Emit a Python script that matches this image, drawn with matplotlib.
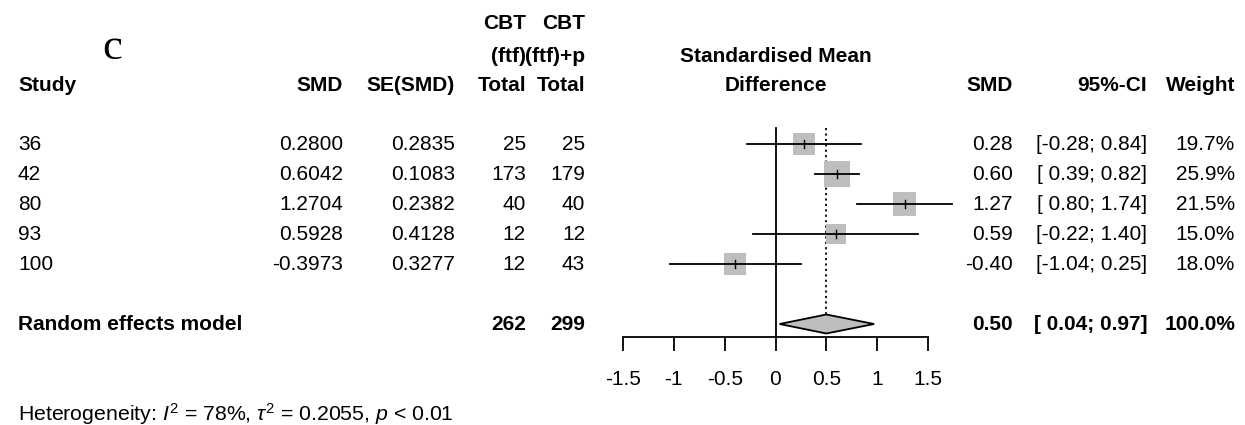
import matplotlib.pyplot as plt
import matplotlib.patches as patches

plt.rcParams['font.family'] = ['Liberation Sans', 'DejaVu Sans']
plt.rcParams['mathtext.fontset'] = 'custom'
plt.rcParams['mathtext.rm'] = 'Liberation Sans'
plt.rcParams['mathtext.it'] = 'Liberation Sans:italic'

# Study data
studies = ['36', '42', '80', '93', '100']
smd = [0.2800, 0.6042, 1.2704, 0.5928, -0.3973]
se_smd = [0.2835, 0.1083, 0.2382, 0.4128, 0.3277]
n_ftf = [25, 173, 40, 12, 12]
n_ftfp = [25, 179, 40, 12, 43]
ci_low = [-0.28, 0.39, 0.80, -0.22, -1.04]
ci_high = [0.84, 0.82, 1.74, 1.40, 0.25]
weights = [19.7, 25.9, 21.5, 15.0, 18.0]

# Random effects summary
re_smd = 0.50
re_low = 0.04
re_high = 0.97
re_n_ftf = 262
re_n_ftfp = 299

x_ticks = [-1.5, -1, -0.5, 0, 0.5, 1, 1.5]
x_tick_labels = ['-1.5', '-1', '-0.5', '0', '0.5', '1', '1.5']

# layout (pixel rows, top = 0)
W, H = 1245, 425
row_y = [144 + 30 * i for i in range(len(studies))]
re_y = 324
axis_y = 337
fs = 15
lw = 1.3
box_grey = '#BEBEBE'

fig = plt.figure(figsize=(W / 100, H / 100), dpi=100)
ax = fig.add_axes([0, 0, 1, 1])
ax.set_xlim(0, W)
ax.set_ylim(H, 0)
ax.axis('off')

# forest panel, x in SMD units
fax = fig.add_axes([623 / W, 0, 305 / W, 1])
fax.set_xlim(-1.5, 1.5)
fax.set_ylim(H, 0)
fax.patch.set_alpha(0)
for s in ['left', 'right', 'top']:
    fax.spines[s].set_visible(False)
fax.spines['bottom'].set_position(('data', axis_y))
fax.spines['bottom'].set_bounds(-1.5, 1.5)
fax.spines['bottom'].set_linewidth(lw)
fax.set_yticks([])
fax.set_xticks(x_ticks)
fax.set_xticklabels(x_tick_labels)
fax.tick_params(axis='x', direction='out', length=10, width=lw, labelsize=fs, pad=14)

# panel letter
ax.text(112, 48, 'c', fontsize=32, family='Liberation Serif', ha='center', va='center')

# column headers
ax.text(526, 23, 'CBT', fontsize=fs, fontweight='bold', ha='right', va='center')
ax.text(585, 23, 'CBT', fontsize=fs, fontweight='bold', ha='right', va='center')
ax.text(526, 56, '(ftf)', fontsize=fs, fontweight='bold', ha='right', va='center')
ax.text(585, 56, '(ftf)+p', fontsize=fs, fontweight='bold', ha='right', va='center')
ax.text(776, 56, 'Standardised Mean', fontsize=fs, fontweight='bold', ha='center', va='center')
hy = 85
ax.text(18, hy, 'Study', fontsize=fs, fontweight='bold', ha='left', va='center')
ax.text(343, hy, 'SMD', fontsize=fs, fontweight='bold', ha='right', va='center')
ax.text(455, hy, 'SE(SMD)', fontsize=fs, fontweight='bold', ha='right', va='center')
ax.text(526, hy, 'Total', fontsize=fs, fontweight='bold', ha='right', va='center')
ax.text(585, hy, 'Total', fontsize=fs, fontweight='bold', ha='right', va='center')
ax.text(776, hy, 'Difference', fontsize=fs, fontweight='bold', ha='center', va='center')
ax.text(1013, hy, 'SMD', fontsize=fs, fontweight='bold', ha='right', va='center')
ax.text(1147, hy, '95%-CI', fontsize=fs, fontweight='bold', ha='right', va='center')
ax.text(1235, hy, 'Weight', fontsize=fs, fontweight='bold', ha='right', va='center')


def fmt_ci(lo, hi):
    lo_s = f'{lo:.2f}' if lo < 0 else f' {lo:.2f}'
    return f'[{lo_s}; {hi:.2f}]'


# study rows
for i, y in enumerate(row_y):
    ax.text(18, y, studies[i], fontsize=fs, ha='left', va='center')
    ax.text(343, y, f'{smd[i]:.4f}', fontsize=fs, ha='right', va='center')
    ax.text(455, y, f'{se_smd[i]:.4f}', fontsize=fs, ha='right', va='center')
    ax.text(526, y, str(n_ftf[i]), fontsize=fs, ha='right', va='center')
    ax.text(585, y, str(n_ftfp[i]), fontsize=fs, ha='right', va='center')
    ax.text(1013, y, f'{smd[i]:.2f}', fontsize=fs, ha='right', va='center')
    ax.text(1147, y, fmt_ci(ci_low[i], ci_high[i]), fontsize=fs, ha='right', va='center')
    ax.text(1235, y, f'{weights[i]:.1f}%', fontsize=fs, ha='right', va='center')

    # weight square, side proportional to sqrt(weight)
    side_px = 5.1 * weights[i] ** 0.5
    side_x = side_px / (305 / 3.0)
    fax.add_patch(patches.Rectangle((smd[i] - side_x / 2, y - side_px / 2), side_x, side_px,
                                    facecolor=box_grey, edgecolor='none', zorder=2))
    fax.plot([ci_low[i], ci_high[i]], [y, y], color='black', lw=lw, zorder=3, clip_on=False)
    fax.plot([smd[i], smd[i]], [y - 4, y + 4], color='black', lw=1.0, zorder=3)

# reference lines
fax.plot([0, 0], [128, axis_y], color='black', lw=lw, zorder=1)
fax.plot([re_smd, re_smd], [128, re_y - 10], color='black', lw=lw, ls=(0, (1.2, 1.8)), zorder=1)

# random effects diamond
diamond = patches.Polygon([(re_low, re_y), (re_smd, re_y - 9.5), (re_high, re_y), (re_smd, re_y + 9.5)],
                          closed=True, facecolor=box_grey, edgecolor='black', lw=lw, zorder=3)
fax.add_patch(diamond)

ax.text(18, re_y, 'Random effects model', fontsize=fs, fontweight='bold', ha='left', va='center')
ax.text(526, re_y, str(re_n_ftf), fontsize=fs, fontweight='bold', ha='right', va='center')
ax.text(585, re_y, str(re_n_ftfp), fontsize=fs, fontweight='bold', ha='right', va='center')
ax.text(1013, re_y, f'{re_smd:.2f}', fontsize=fs, fontweight='bold', ha='right', va='center')
ax.text(1147, re_y, fmt_ci(re_low, re_high), fontsize=fs, fontweight='bold', ha='right', va='center')
ax.text(1235, re_y, '100.0%', fontsize=fs, fontweight='bold', ha='right', va='center')

# heterogeneity footnote
ax.text(18, 414, r'Heterogeneity: $I^2$ = 78%, $\tau^2$ = 0.2055, $p$ < 0.01',
        fontsize=15.3, ha='left', va='center')

fig.savefig('out.png', dpi=100)
